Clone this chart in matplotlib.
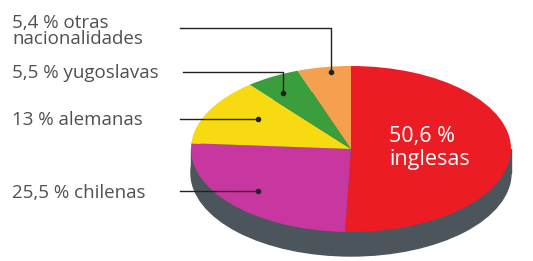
import matplotlib.pyplot as plt
from matplotlib.transforms import Affine2D
from matplotlib.patches import Rectangle, Ellipse

plt.rcParams['font.family'] = ['Open Sans', 'DejaVu Sans']

# data
valores = [50.6, 25.5, 13.0, 5.5, 5.4]
nombres = ['inglesas', 'chilenas', 'alemanas', 'yugoslavas', 'otras nacionalidades']
etiquetas = ['50,6 %\ninglesas', '25,5 % chilenas', '13 % alemanas',
             '5,5 % yugoslavas', '5,4 % otras\nnacionalidades']
colores = ['#ec1c24', '#c8379f', '#f7da12', '#3a9e3c', '#f4a04e']

W, H = 533, 261
fig = plt.figure(figsize=(W / 100, H / 100), dpi=100)
ax = fig.add_axes([0, 0, 1, 1])

cx, cy = 351, 149
a, b = 160, 83
depth = 24
sq = Affine2D().scale(1, b / a).translate(cx, cy)

# side of the cylinder
ax.add_patch(Ellipse((cx, cy + depth), 2 * a, 2 * b, color='#4b555b', zorder=1))
ax.add_patch(Rectangle((cx - a, cy), 2 * a, depth, color='#4b555b', zorder=1))

# top face: pie squashed into an ellipse (y axis points down, so flip)
wedges, _ = ax.pie(valores, colors=colores, startangle=90, counterclock=True,
                   radius=a, center=(0, 0), frame=True,
                   wedgeprops=dict(linewidth=0))
for w in wedges:
    w.set_transform(Affine2D().scale(-1, -1) + sq + ax.transData)
    w.set_zorder(2)
ax.set_xlim(0, W)
ax.set_ylim(H, 0)
ax.axis('off')

ax.text(389, 148, etiquetas[0], color='white', fontsize=15.5, ha='left',
        va='center', linespacing=1.15, zorder=3)

gris = '#505050'
fs = 13.5
ax.text(12, 193, etiquetas[1], color=gris, fontsize=fs, va='center', ha='left')
ax.text(12, 120, etiquetas[2], color=gris, fontsize=fs, va='center', ha='left')
ax.text(12, 73, etiquetas[3], color=gris, fontsize=fs, va='center', ha='left')
ax.text(12, 31, etiquetas[4], color=gris, fontsize=fs, va='center', ha='left',
        linespacing=0.8)

# leader lines
lw = 1.0
lc = '#222222'
ax.plot([180, 258], [191, 191], color=lc, lw=lw, zorder=4)
ax.plot([258], [191], 'o', color=lc, ms=3, zorder=4)
ax.plot([180, 258], [119, 119], color=lc, lw=lw, zorder=4)
ax.plot([258], [119], 'o', color=lc, ms=3, zorder=4)
ax.plot([183, 283, 283], [72, 72, 93], color=lc, lw=lw, zorder=4)
ax.plot([283], [93], 'o', color=lc, ms=3, zorder=4)
ax.plot([180, 331, 331], [28, 28, 72], color=lc, lw=lw, zorder=4)
ax.plot([331], [72], 'o', color=lc, ms=3, zorder=4)

fig.savefig('out.png', dpi=100)
